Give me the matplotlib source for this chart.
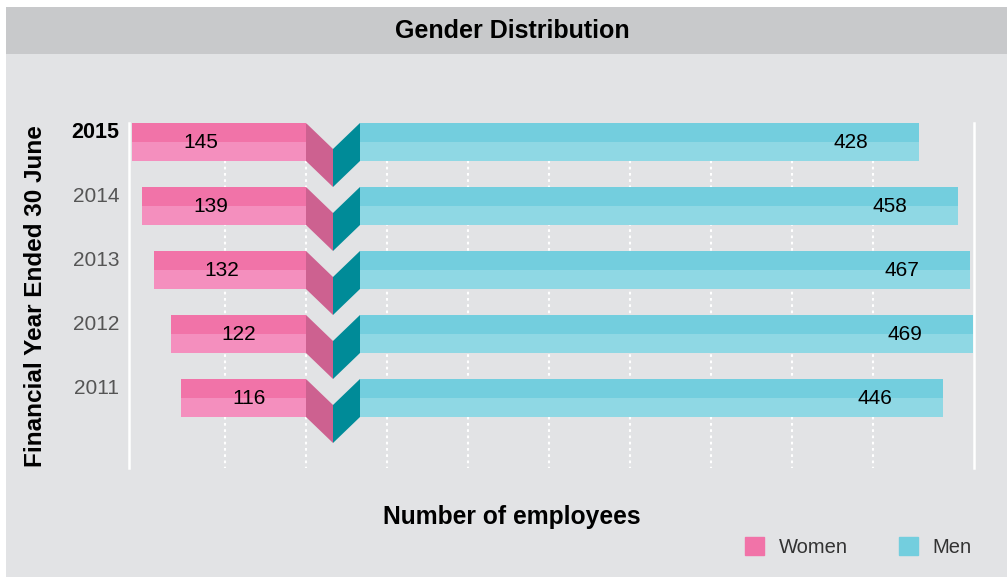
import numpy as np
import matplotlib
matplotlib.use('Agg')
import matplotlib.pyplot as plt
from matplotlib.patches import Rectangle, Polygon, Patch

# données
years = ['2015', '2014', '2013', '2012', '2011']
women = [145, 139, 132, 122, 116]
men = [428, 458, 467, 469, 446]

# couleurs
pink_top = '#f173a8'
pink_bot = '#f48fbe'
pink_fold = '#cd6190'
teal_top = '#73cede'
teal_bot = '#8fd8e4'
teal_fold = '#008b98'
band_col = '#c8c9cb'
body_col = '#e2e3e5'

plain = ['Liberation Sans', 'DejaVu Sans']

W, H = 1007, 579
fig = plt.figure(figsize=(W / 100, H / 100), dpi=100)
fig.patch.set_facecolor('white')

# fond (coordonnées en pixels)
bg = fig.add_axes([0, 0, 1, 1], zorder=-1)
bg.set_xlim(0, W)
bg.set_ylim(H, 0)
bg.axis('off')
bg.add_patch(Rectangle((6, 7), W - 6, H - 9, color=body_col, lw=0))
bg.add_patch(Rectangle((6, 7), W - 6, 47, color=band_col, lw=0))
bg.vlines(np.arange(225, 874, 81), 123, 468, color='white', lw=1.5,
          linestyle=(0, (1.3, 1.7)))

# lignes : centre du rang i à 142 + 64*i px
rows = np.arange(len(years))
h = 38 / 64
drop = 26 / 64
ylim = (326 / 64, -19 / 64)
ax_bottom = 1 - 468 / H
ax_height = 345 / H

# femmes (axe tronqué, vers la gauche)
ax_w = fig.add_axes([129 / W, ax_bottom, 177 / W, ax_height])
ax_w.barh(rows - h / 4, women, height=h / 2, color=pink_top, label='Women')
ax_w.barh(rows + h / 4, women, height=h / 2, color=pink_bot)
ax_w.set_xlim(146.96, 41.0)

# hommes
ax_m = fig.add_axes([360 / W, ax_bottom, 614 / W, ax_height])
ax_m.barh(rows - h / 4, men, height=h / 2, color=teal_top, label='Men')
ax_m.barh(rows + h / 4, men, height=h / 2, color=teal_bot)
ax_m.set_xlim(0, 470)

# pli au centre
ax_f = fig.add_axes([306 / W, ax_bottom, 54 / W, ax_height])
ax_f.set_xlim(0, 2)
for r in rows:
    top, bot = r - h / 2, r + h / 2
    ax_f.add_patch(Polygon([(0, top), (1, top + drop), (1, bot + drop), (0, bot)],
                           closed=True, color=pink_fold, lw=0))
    ax_f.add_patch(Polygon([(1, top + drop), (2, top), (2, bot), (1, bot + drop)],
                           closed=True, color=teal_fold, lw=0))

for ax in (ax_w, ax_m, ax_f):
    ax.set_ylim(*ylim)
    ax.set_facecolor('none')
    ax.set_xticks([])
    ax.set_yticks([])
    for s in ax.spines.values():
        s.set_visible(False)

ax_w.spines['left'].set_visible(True)
ax_w.spines['left'].set_color('white')
ax_w.spines['left'].set_linewidth(1.8)
ax_m.spines['right'].set_visible(True)
ax_m.spines['right'].set_color('white')
ax_m.spines['right'].set_linewidth(1.8)

# étiquettes des valeurs
for r, v in zip(rows, women):
    ax_w.annotate(str(v), xy=(v, r), xytext=(49, 0), textcoords='offset points',
                  ha='center', va='center', fontsize=15, family=plain, color='black')
for r, v in zip(rows, men):
    ax_m.annotate(str(v), xy=(v, r), xytext=(-49, 0), textcoords='offset points',
                  ha='center', va='center', fontsize=15, family=plain, color='black')

# années
for i, (r, y) in enumerate(zip(rows, years)):
    ax_w.annotate(y, xy=(0, r), xycoords=('axes fraction', 'data'),
                  xytext=(-7.2, 7.2), textcoords='offset points',
                  ha='right', va='center', family=plain,
                  fontsize=15.5 if i == 0 else 15,
                  fontweight='bold' if i == 0 else 'normal',
                  color='black' if i == 0 else '#555555')

# titres
fig.text(512 / W, 1 - 31 / H, 'Gender Distribution', ha='center', va='center',
         fontsize=18, fontweight='bold', family=plain)
fig.text(512 / W, 1 - 517 / H, 'Number of employees', ha='center', va='center',
         fontsize=17.7, fontweight='bold', family=plain)
fig.text(36 / W, 1 - 296 / H, 'Financial Year Ended 30 June', ha='center', va='center',
         rotation=90, fontsize=17.5, fontweight='bold', family=plain)

# légende
handles = [Patch(color=pink_top, label='Women'), Patch(color=teal_top, label='Men')]
leg = fig.legend(handles=handles, loc='center right', ncol=2, frameon=False,
                 bbox_to_anchor=(972 / W, 1 - 547 / H), borderpad=0, borderaxespad=0,
                 handlelength=0.95, handleheight=0.95, handletextpad=0.75,
                 columnspacing=2.5, prop={'family': plain, 'size': 14.5})
for t in leg.get_texts():
    t.set_color('#333333')

fig.savefig('out.png', dpi=100)
